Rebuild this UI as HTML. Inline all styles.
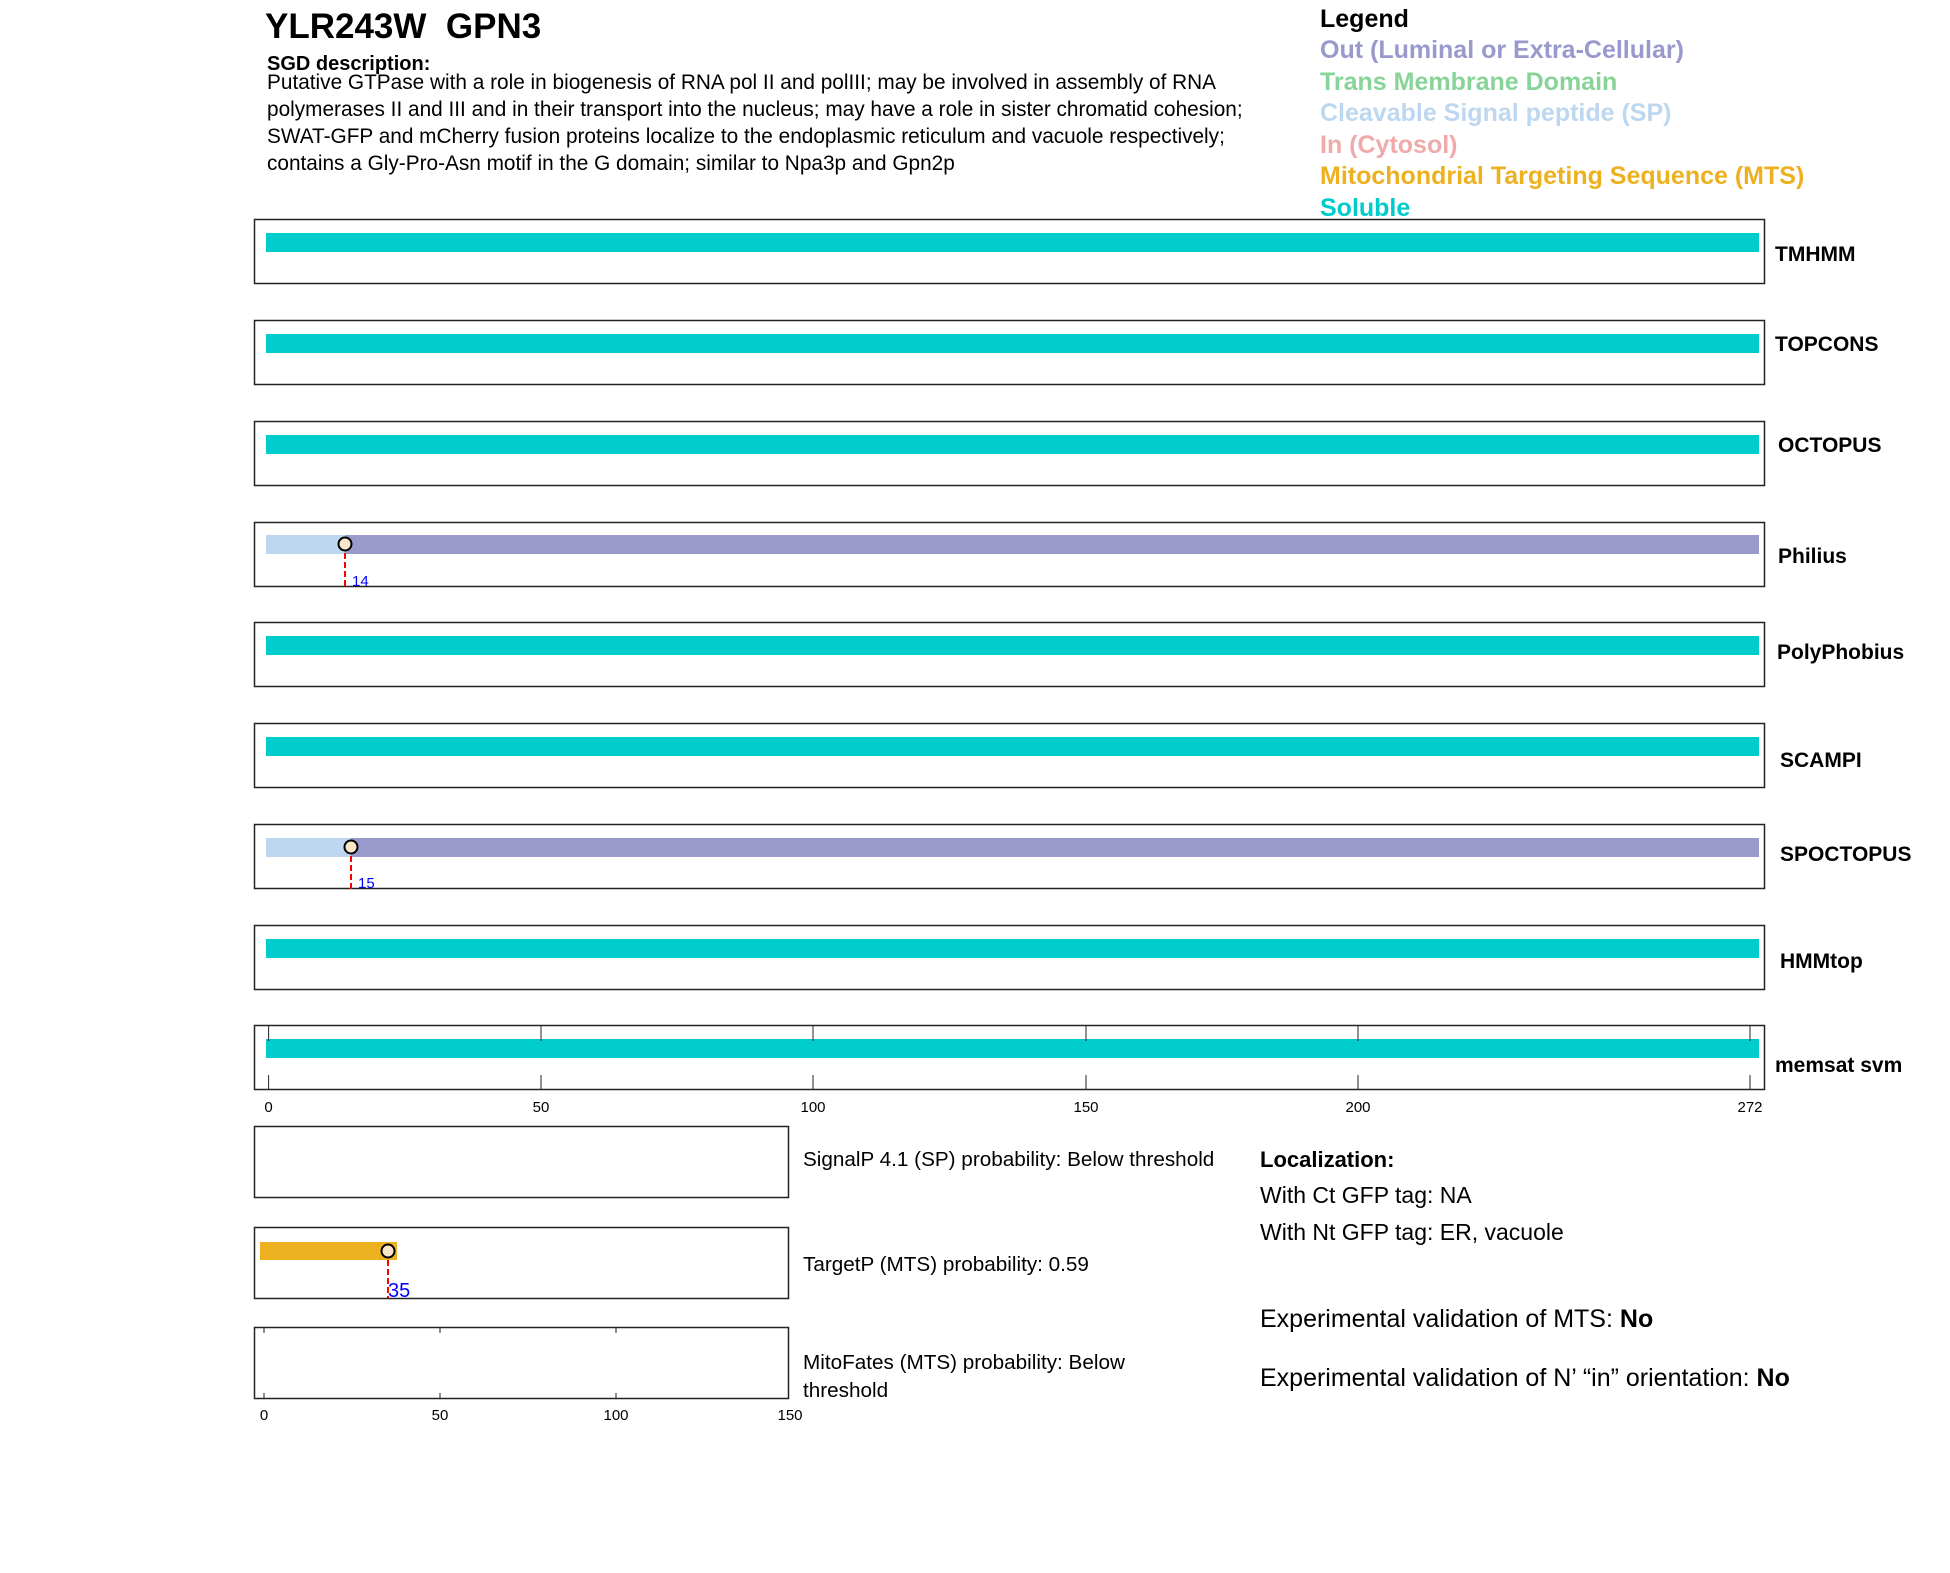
<!DOCTYPE html>
<html><head><meta charset="utf-8"><style>body{margin:0;background:#fff}svg{display:block}text{font-family:"Liberation Sans",Arial,sans-serif}</style></head><body>
<svg width="1950" height="1573" xmlns="http://www.w3.org/2000/svg">
<text x="265" y="38" font-size="35" font-weight="bold" xml:space="preserve">YLR243W  GPN3</text>
<text x="267" y="70" font-size="20" font-weight="bold">SGD description:</text>
<g font-size="20.8">
<text x="267" y="89">Putative GTPase with a role in biogenesis of RNA pol II and polIII; may be involved in assembly of RNA</text>
<text x="267" y="116">polymerases II and III and in their transport into the nucleus; may have a role in sister chromatid cohesion;</text>
<text x="267" y="143">SWAT-GFP and mCherry fusion proteins localize to the endoplasmic reticulum and vacuole respectively;</text>
<text x="267" y="170">contains a Gly-Pro-Asn motif in the G domain; similar to Npa3p and Gpn2p</text>
</g>
<g font-size="25" font-weight="bold">
<text x="1320" y="27" fill="#000">Legend</text>
<text x="1320" y="58" fill="#9999CC">Out (Luminal or Extra-Cellular)</text>
<text x="1320" y="90" fill="#88D498">Trans Membrane Domain</text>
<text x="1320" y="121" fill="#BDD7F0">Cleavable Signal peptide (SP)</text>
<text x="1320" y="153" fill="#F0AAAA">In (Cytosol)</text>
<text x="1320" y="184" fill="#EDB120">Mitochondrial Targeting Sequence (MTS)</text>
<text x="1320" y="216" fill="#00CCCC">Soluble</text>
</g>
<g stroke="#222" stroke-width="1.5" fill="none">
<rect x="254.5" y="219.5" width="1510" height="64"/>
<rect x="254.5" y="320.5" width="1510" height="64"/>
<rect x="254.5" y="421.5" width="1510" height="64"/>
<rect x="254.5" y="522.5" width="1510" height="64"/>
<rect x="254.5" y="622.5" width="1510" height="64"/>
<rect x="254.5" y="723.5" width="1510" height="64"/>
<rect x="254.5" y="824.5" width="1510" height="64"/>
<rect x="254.5" y="925.5" width="1510" height="64"/>
<rect x="254.5" y="1025.5" width="1510" height="64"/>
</g>
<g fill="#00CCCC">
<rect x="266" y="233" width="1493" height="19"/>
<rect x="266" y="334" width="1493" height="19"/>
<rect x="266" y="435" width="1493" height="19"/>
<rect x="266" y="636" width="1493" height="19"/>
<rect x="266" y="737" width="1493" height="19"/>
<rect x="266" y="939" width="1493" height="19"/>
<rect x="266" y="1039" width="1493" height="19"/>
</g>
<rect x="266" y="535" width="79" height="19" fill="#BDD7F0"/><rect x="345" y="535" width="1414" height="19" fill="#9999CC"/>
<line x1="345" y1="544" x2="345" y2="587" stroke="red" stroke-width="2" stroke-dasharray="6,3"/>
<circle cx="345" cy="544" r="6.5" fill="#FBE5C8" stroke="#000" stroke-width="2"/>
<text x="352" y="586" font-size="15" fill="#0000FF">14</text>
<rect x="266" y="838" width="85" height="19" fill="#BDD7F0"/><rect x="351" y="838" width="1408" height="19" fill="#9999CC"/>
<line x1="351" y1="847" x2="351" y2="889" stroke="red" stroke-width="2" stroke-dasharray="6,3"/>
<circle cx="351" cy="847" r="6.5" fill="#FBE5C8" stroke="#000" stroke-width="2"/>
<text x="358" y="888" font-size="15" fill="#0000FF">15</text>
<g stroke="#222" stroke-width="1">
<line x1="268.6" y1="1026" x2="268.6" y2="1041"/><line x1="268.6" y1="1075" x2="268.6" y2="1090"/>
<line x1="541" y1="1026" x2="541" y2="1041"/><line x1="541" y1="1075" x2="541" y2="1090"/>
<line x1="813" y1="1026" x2="813" y2="1041"/><line x1="813" y1="1075" x2="813" y2="1090"/>
<line x1="1086" y1="1026" x2="1086" y2="1041"/><line x1="1086" y1="1075" x2="1086" y2="1090"/>
<line x1="1358" y1="1026" x2="1358" y2="1041"/><line x1="1358" y1="1075" x2="1358" y2="1090"/>
<line x1="1750" y1="1026" x2="1750" y2="1041"/><line x1="1750" y1="1075" x2="1750" y2="1090"/>
</g>
<g font-size="15" text-anchor="middle">
<text x="268.6" y="1112">0</text><text x="541" y="1112">50</text><text x="813" y="1112">100</text><text x="1086" y="1112">150</text><text x="1358" y="1112">200</text><text x="1750" y="1112">272</text>
</g>
<g font-size="21" font-weight="bold">
<text x="1775" y="261">TMHMM</text>
<text x="1775" y="351">TOPCONS</text>
<text x="1778" y="452">OCTOPUS</text>
<text x="1778" y="563">Philius</text>
<text x="1777" y="659">PolyPhobius</text>
<text x="1780" y="767">SCAMPI</text>
<text x="1780" y="861">SPOCTOPUS</text>
<text x="1780" y="968">HMMtop</text>
<text x="1775" y="1072">memsat svm</text>
</g>
<g stroke="#222" stroke-width="1.5" fill="none">
<rect x="254.5" y="1126.5" width="534" height="71"/>
<rect x="254.5" y="1227.5" width="534" height="71"/>
<rect x="254.5" y="1327.5" width="534" height="71"/>
</g>
<rect x="260" y="1242" width="137" height="18" fill="#EDB120"/>
<line x1="388" y1="1251" x2="388" y2="1298" stroke="red" stroke-width="2" stroke-dasharray="6,3"/>
<circle cx="388" cy="1251" r="6.5" fill="#FBE5C8" stroke="#000" stroke-width="2"/>
<text x="388" y="1297" font-size="20" fill="#0000FF">35</text>
<g stroke="#222" stroke-width="1">
<line x1="264" y1="1328" x2="264" y2="1333"/><line x1="264" y1="1393" x2="264" y2="1398"/>
<line x1="440" y1="1328" x2="440" y2="1333"/><line x1="440" y1="1393" x2="440" y2="1398"/>
<line x1="616" y1="1328" x2="616" y2="1333"/><line x1="616" y1="1393" x2="616" y2="1398"/>
</g>
<g font-size="15" text-anchor="middle">
<text x="264" y="1420">0</text><text x="440" y="1420">50</text><text x="616" y="1420">100</text><text x="790" y="1420">150</text>
</g>
<g font-size="20.7">
<text x="803" y="1166">SignalP 4.1 (SP) probability: Below threshold</text>
<text x="803" y="1271">TargetP (MTS) probability: 0.59</text>
<text x="803" y="1369">MitoFates (MTS) probability: Below</text>
<text x="803" y="1397">threshold</text>
</g>
<text x="1266" y="1167" font-size="22" font-weight="bold" transform="translate(-6,0)">Localization:</text>
<text x="1260" y="1203" font-size="23">With Ct GFP tag: NA</text>
<text x="1260" y="1240" font-size="23">With Nt GFP tag: ER, vacuole</text>
<text x="1260" y="1327" font-size="25">Experimental validation of MTS: <tspan font-weight="bold">No</tspan></text>
<text x="1260" y="1386" font-size="25">Experimental validation of N’ “in” orientation: <tspan font-weight="bold">No</tspan></text>
</svg>
</body></html>
